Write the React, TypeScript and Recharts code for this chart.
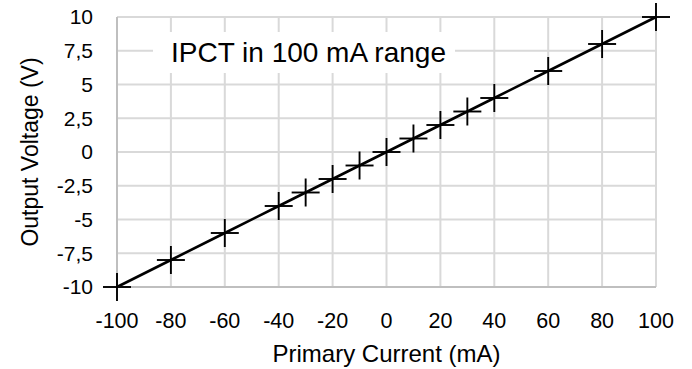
import { ComposedChart, Line, XAxis, YAxis, CartesianGrid, Legend } from 'recharts';

const currents = [-100, -80, -60, -40, -30, -20, -10, 0, 10, 20, 30, 40, 60, 80, 100];
const voltages = [-10, -8, -6, -4, -3, -2, -1, 0, 1, 2, 3, 4, 6, 8, 10];
const xTicks = [-100, -80, -60, -40, -20, 0, 20, 40, 60, 80, 100];
const yTicks = [-10, -7.5, -5, -2.5, 0, 2.5, 5, 7.5, 10];
const seriesName = 'IPCT in 100 mA range';

const FONT = '"Liberation Sans", Arial, sans-serif';

const PlusDot = (props: any) => {
    const { cx, cy } = props;
    if (cx == null || cy == null) return null;
    const h = 14;
    return (
        <g>
            <line x1={cx - h} y1={cy} x2={cx + h} y2={cy} stroke="#000" strokeWidth={1.9} />
            <line x1={cx} y1={cy - h} x2={cx} y2={cy + h} stroke="#000" strokeWidth={1.9} />
        </g>
    );
};

const LegendBox = ({ payload }: any) => (
    <div
        style={{
            background: '#fff',
            width: 302,
            height: 41,
            lineHeight: '41px',
            fontSize: 28,
            fontFamily: FONT,
            color: '#000',
            paddingLeft: 18,
            boxSizing: 'border-box',
            whiteSpace: 'nowrap',
        }}
    >
        {payload && payload[0] ? payload[0].value : seriesName}
    </div>
);

export default function App() {
    const data = currents.map((x, i) => ({ x, y: voltages[i] }));
    const fmt = (v: number) => String(v).replace('.', ',');

    return (
        <div style={{ position: 'absolute', left: 0, top: 0, width: 692, height: 369, background: '#fff' }}>
            <ComposedChart
                width={692}
                height={369}
                data={data}
                margin={{ top: 17, right: 36, bottom: 0, left: 0 }}
                style={{ fontFamily: FONT }}
            >
                <CartesianGrid stroke="#d9d9d9" strokeWidth={2} />
                <XAxis
                    dataKey="x"
                    type="number"
                    domain={[-100, 100]}
                    ticks={xTicks}
                    interval={0}
                    height={82}
                    axisLine={{ stroke: '#bfbfbf', strokeWidth: 2 }}
                    tickLine={false}
                    tickSize={10}
                    tickMargin={16}
                    tick={{ fill: '#000', fontSize: 21.5 }}
                    label={{ value: 'Primary Current (mA)', position: 'insideBottom', offset: 7, fill: '#000', fontSize: 24 }}
                />
                <YAxis
                    type="number"
                    domain={[-10, 10]}
                    ticks={yTicks}
                    interval={0}
                    width={117}
                    axisLine={{ stroke: '#bfbfbf', strokeWidth: 2 }}
                    tickLine={false}
                    tickSize={12}
                    tickMargin={12}
                    tickFormatter={fmt}
                    tick={{ fill: '#000', fontSize: 21 }}
                    label={{
                        value: 'Output Voltage (V)',
                        angle: -90,
                        position: 'insideLeft',
                        offset: 30,
                        fill: '#000',
                        fontSize: 23,
                        style: { textAnchor: 'middle' },
                    }}
                />
                <Legend
                    verticalAlign="middle"
                    align="center"
                    layout="horizontal"
                    content={<LegendBox />}
                    wrapperStyle={{ left: 153, top: 32, width: 302, height: 41 }}
                />
                <Line
                    dataKey="y"
                    name={seriesName}
                    stroke="#000"
                    strokeWidth={2.6}
                    dot={<PlusDot />}
                    activeDot={false}
                    isAnimationActive={false}
                />
            </ComposedChart>
        </div>
    );
}
